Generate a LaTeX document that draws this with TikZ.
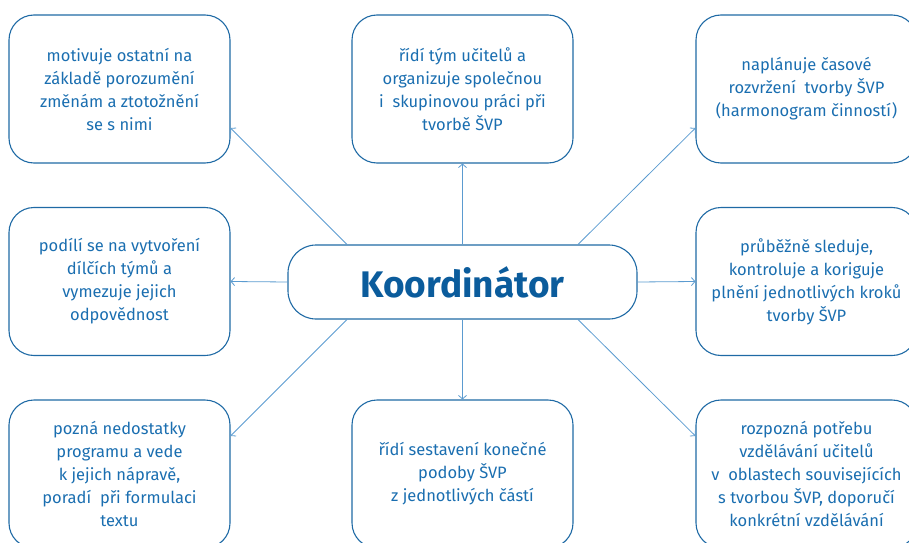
\documentclass[tikz,border=0pt]{standalone}
\usepackage{fontspec}
\setmainfont{Fira Sans}
\usetikzlibrary{arrows.meta,calc}
\definecolor{boxblue}{HTML}{1F6AA5}
\definecolor{txtblue}{HTML}{1A6EB0}
\definecolor{titblue}{HTML}{0B5C9C}
\definecolor{lineblue}{HTML}{5B9BD0}
\tikzset{
  leaf/.style={draw=boxblue, line width=1.1pt, rounded corners=25pt, minimum width=221pt, minimum height=148pt, inner sep=0pt, align=center, text=txtblue, font=\fontsize{16.5pt}{23pt}\selectfont},
  hub/.style={draw=boxblue, line width=1.1pt, rounded corners=28pt, minimum width=349pt, minimum height=74pt, inner sep=0pt, text=titblue, font=\fontsize{37pt}{41pt}\selectfont\bfseries},
  conn/.style={draw=lineblue, line width=0.8pt, -{Straight Barb[length=3.5pt,width=8pt]}}
}
\begin{document}
\begin{tikzpicture}[x=1pt,y=1pt]
\useasboundingbox (0,0) rectangle (909,542);
\clip (0,0) rectangle (909,542);
\node[hub] (c) at (462.5,260) {Koordinátor};
\node[leaf] (tl) at (119.5,453) {motivuje ostatní na\\základě porozumění\\změnám a ztotožnění\\se s nimi};
\node[leaf] (tm) at (462.5,453) {řídí tým učitelů a\\organizuje společnou\\i\ \ skupinovou práci při\\tvorbě ŠVP};
\node[leaf] (tr) at (806.5,453) {naplánuje časové\\rozvržení\ \ tvorby ŠVP\\(harmonogram činností)};
\node[leaf] (ml) at (119.5,260.5) {podílí se na vytvoření\\dílčích týmů a\\vymezuje jejich\\odpovědnost};
\node[leaf] (mr) at (806.5,260.5) {průběžně sleduje,\\kontroluje a koriguje\\plnění jednotlivých kroků\\tvorby ŠVP};
\node[leaf] (bl) at (119.5,68) {pozná nedostatky\\programu a vede\\k jejich nápravě,\\poradí\ \ při formulaci\\textu};
\node[leaf] (bm) at (462.5,68) {řídí sestavení konečné\\podoby ŠVP\\z jednotlivých částí};
\node[leaf] (br) at (806.5,68) {rozpozná potřebu\\vzdělávání učitelů\\v\ \ oblastech souvisejících\\s tvorbou ŠVP, doporučí\\konkrétní vzdělávání};
\draw[conn] (c.north) -- (tm.south);
\draw[conn] (c.south) -- (bm.north);
\draw[conn] (c.west) -- (ml.east);
\draw[conn] (c.east) -- (mr.west);
\draw[conn] ($(c.north)+(-115.5,0)$) -- ($(tl.east)+(0,-39)$);
\draw[conn] ($(c.north)+(115.5,0)$) -- ($(tr.west)+(0,-39)$);
\draw[conn] ($(c.south)+(-115.5,0)$) -- ($(bl.east)+(0,38)$);
\draw[conn] ($(c.south)+(115.5,0)$) -- ($(br.west)+(0,38)$);
\end{tikzpicture}
\end{document}
